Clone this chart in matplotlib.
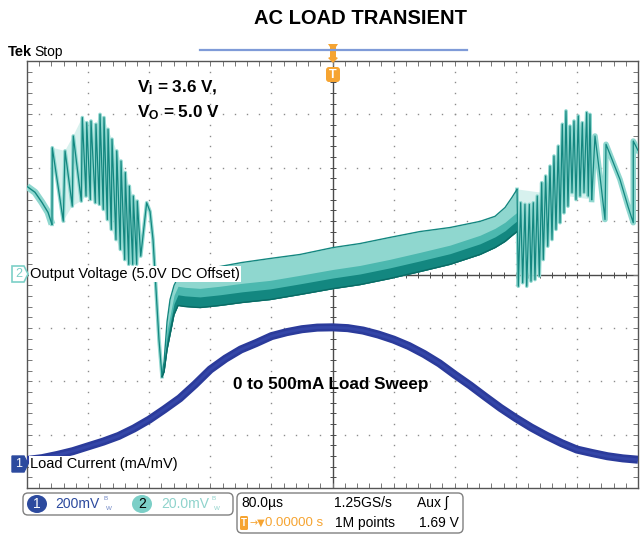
"""
AC load transient: Tek scope screen with output voltage ripple (ch2,
AC-coupled view with 5.0 V DC offset) and a 0-500 mA sinusoidal load
sweep (ch1, 1 mA/mV current probe).
"""
import matplotlib
matplotlib.use("Agg")
import matplotlib.pyplot as plt
import numpy as np
from matplotlib.lines import Line2D
from matplotlib.patches import Ellipse, FancyBboxPatch, Polygon
from matplotlib.ticker import MultipleLocator
from matplotlib.transforms import Affine2D

W, H = 640, 539

# ---------------------------------------------------------------------------
# Scope settings
# ---------------------------------------------------------------------------
US_PER_DIV = 80.0
CH1_MV_PER_DIV = 200.0      # load current, 1 mA/mV
CH1_POS_DIV = -3.5
CH2_MV_PER_DIV = 20.0       # output voltage, 5.0 V offset
CH2_POS_DIV = 0.0

# ---------------------------------------------------------------------------
# Ch1: load current (mA) vs time (us)
# ---------------------------------------------------------------------------
LOAD_T_US = [-400, -380, -360, -340, -320, -300, -280, -260, -240, -220,
             -200, -180, -160, -140, -120, -100, -80, -60, -40, -20, 0,
             20, 40, 60, 80, 100, 120, 140, 160, 180, 200, 220, 240, 260,
             280, 300, 320, 340, 360, 380, 400]
LOAD_MA = [5, 12, 24, 38, 56, 74, 95, 123, 156, 195,
           236, 288, 344, 385, 419, 443, 469, 484, 495, 501, 502,
           499, 490, 475, 456, 432, 402, 367, 325, 285, 242, 200, 162, 127,
           96, 68, 44, 31, 19, 11, 6]

# ---------------------------------------------------------------------------
# Ch2: output voltage deviation (mV) vs time (us)
# ---------------------------------------------------------------------------
# decaying trace at the left edge, before the burst
HEAD_T_US = [-400.0, -389.5, -380.4, -372.5, -367.3]
HEAD_MV = [33.0, 30.8, 27.0, 23.3, 18.8]

# light-load burst ripple, left side
BURST_L_PEAK_T = [-366.9, -350.2, -339.4, -327.6, -321.8, -316.2, -309.7,
                  -304.4, -299.2, -293.9, -288.7, -282.5, -276.9, -271.3,
                  -266.0, -260.8, -255.6]
BURST_L_PEAK_MV = [47.5, 46.3, 51.9, 58.8, 56.9, 57.5, 56.3, 60.0, 58.8,
                   54.4, 50.7, 46.3, 42.5, 38.2, 33.1, 29.4, 27.5]
BURST_L_LOW_T = [-352.5, -340.7, -328.9, -322.7, -317.1, -310.6, -305.3,
                 -300.1, -294.8, -289.6, -283.5, -277.8, -272.1, -266.8,
                 -261.6, -256.4, -251.1]
BURST_L_LOW_MV = [20.0, 25.6, 27.5, 29.4, 28.1, 26.9, 26.3, 24.4, 20.6,
                  16.9, 13.1, 9.4, 5.6, 3.8, 3.8, 3.8, 6.9]

# undershoot when the load ramps up
DIP_T_US = [-243.3, -238.9, -235.0, -231.1, -227.2, -223.2]
DIP_MV = [26.9, 23.6, 13.1, -5.6, -24.4, -38.3]

# continuous-mode band (upper / lower envelope)
BAND_T_US = [-223.2, -220.5, -216.6, -212.7, -207.5, -202.3, -193.1, -173.5,
             -147.3, -118.5, -81.8, -42.6, 0.7, 36.0, 75.3, 114.6, 153.8,
             193.1, 212.8, 225.9, 235.0, 241.6]
BAND_TOP_MV = [-38.3, -32.6, -17.6, -9.4, -4.1, -1.1, 1.1, 1.9, 3.0, 4.5,
               6.0, 7.5, 10.1, 11.6, 13.9, 16.1, 17.6, 19.9, 21.8, 25.1,
               28.9, 31.9]
BAND_LOW_MV = [-38.3, -36.4, -28.1, -22.5, -15.0, -11.6, -12.0, -12.4, -11.6,
               -10.5, -9.4, -7.5, -5.3, -3.8, -1.5, 1.1, 3.8, 7.5, 10.1, 12.4,
               14.6, 16.1]

# burst ripple, right side (trace vertices in order)
BURST_R_T = [241.6, 243.3, 246.4, 249.0, 252.0, 254.3, 257.7, 259.9, 262.9,
             265.1, 268.1, 270.8, 273.9, 276.0, 279.1, 281.8, 284.8, 287.4,
             290.0, 292.6, 295.6, 297.9, 300.9, 303.1, 305.7, 308.3, 311.0,
             313.6, 316.2, 318.8, 321.8, 324.1, 327.1, 329.3, 332.8, 334.9,
             337.1, 339.4]
BURST_R_MV = [31.9, -4.4, 26.9, -3.1, 26.3, -4.4, 26.3, -2.5, 26.9, -1.9,
              29.4, -0.6, 34.4, 5.6, 36.9, 10.6, 40.6, 13.1, 44.4, 16.9,
              48.1, 19.4, 56.3, 23.1, 61.3, 25.6, 55.6, 30.7, 57.5, 28.1,
              59.4, 29.4, 56.9, 30.7, 60.7, 29.4, 60.0, 28.1]

# slow decays at the right edge
TAIL_T_US = [339.4, 343.7, 350.2, 356.8, 358.1, 376.4, 386.9, 393.8, 393.8, 400.0]
TAIL_MV = [28.1, 51.9, 36.9, 20.6, 48.8, 35.6, 25.5, 19.4, 50.0, 46.5]

TEAL_DARK = "#138780"
TEAL_EDGE = "#0b6a64"
TEAL_MID = "#4cb8af"
TEAL_LIGHT = "#8fd7cf"
CH1_BLUE = "#2b3b9b"
CH1_TAG = "#2c4a9e"
CH2_TAG = "#7ccfc7"
ORANGE = "#f6a431"
GRID = "#8c8c8c"
AXIS = "#4a4a4a"

TEK_FONT = ["Liberation Sans", "DejaVu Sans"]
LABEL_FONT = ["Liberation Sans", "DejaVu Sans"]


def ch1(ma):
    return CH1_POS_DIV + np.asarray(ma, dtype=float) / CH1_MV_PER_DIV


def ch2(mv):
    return CH2_POS_DIV + np.asarray(mv, dtype=float) / CH2_MV_PER_DIV


def interleave(a, b):
    out = np.empty(len(a) + len(b))
    out[0::2] = a
    out[1::2] = b
    return out


plt.rcParams["mathtext.fontset"] = "custom"
plt.rcParams["mathtext.bf"] = "Liberation Sans:bold"
plt.rcParams["mathtext.rm"] = "Liberation Sans:bold"

fig = plt.figure(figsize=(W / 100, H / 100), dpi=100)
fig.patch.set_facecolor("white")
PIX = Affine2D().scale(1 / W, -1 / H).translate(0, 1) + fig.transFigure

ax = fig.add_axes([27 / W, 1 - 488 / H, 611 / W, 427 / H])
ax.set_xlim(-5 * US_PER_DIV, 5 * US_PER_DIV)
ax.set_ylim(-4, 4)

# graticule ------------------------------------------------------------------
dots_y = np.arange(-4, 4.001, 0.2)
dots_x = np.arange(-400, 400.1, 16)
for gx in np.arange(-320, 400, 80):
    if gx != 0:
        ax.plot(np.full_like(dots_y, gx), dots_y, ls="none", marker="s",
                ms=1.0, mew=0, color=GRID, zorder=0.5)
for gy in range(-3, 4):
    if gy != 0:
        ax.plot(dots_x, np.full_like(dots_x, gy), ls="none", marker="s",
                ms=1.0, mew=0, color=GRID, zorder=0.5)
ax.axhline(0, color=AXIS, lw=1.0, zorder=1)
ax.axvline(0, color=AXIS, lw=1.0, zorder=1)
ax.plot(dots_x, np.zeros_like(dots_x), ls="none", marker="|", ms=5,
        mew=0.7, color=AXIS, zorder=1)
ax.plot(np.zeros_like(dots_y), dots_y, ls="none", marker="_", ms=5,
        mew=0.7, color=AXIS, zorder=1)

ax.xaxis.set_major_locator(MultipleLocator(US_PER_DIV))
ax.xaxis.set_minor_locator(MultipleLocator(US_PER_DIV / 5))
ax.yaxis.set_major_locator(MultipleLocator(1))
ax.yaxis.set_minor_locator(MultipleLocator(0.2))
ax.tick_params(which="both", direction="in", length=3.5, width=0.7,
               color="#777777", top=True, right=True,
               labelleft=False, labelbottom=False)
for sp in ax.spines.values():
    sp.set_color("#555555")
    sp.set_linewidth(1.0)

# ch1 load current -------------------------------------------------------------
ax.plot(LOAD_T_US, ch1(LOAD_MA), color=CH1_BLUE, lw=5.8,
        solid_capstyle="butt", solid_joinstyle="round", zorder=3)
ax.plot(LOAD_T_US, ch1(LOAD_MA), color="#3446a8", lw=2.0, zorder=3.1)

# ch2 output voltage -----------------------------------------------------------
ax.plot(HEAD_T_US, ch2(HEAD_MV), color=TEAL_LIGHT, lw=5.0,
        solid_capstyle="butt", zorder=3)
ax.plot(HEAD_T_US, ch2(HEAD_MV), color=TEAL_DARK, lw=1.0, zorder=3.2)

# persistence haze between the burst peaks and troughs
haze = np.column_stack([
    np.concatenate([BURST_L_PEAK_T, BURST_L_LOW_T[::-1]]),
    ch2(np.concatenate([BURST_L_PEAK_MV, BURST_L_LOW_MV[::-1]])),
])
ax.add_patch(Polygon(haze, closed=True, fc=TEAL_LIGHT, ec="none", alpha=0.35,
                     zorder=2.8))

burst_t = np.concatenate([[HEAD_T_US[-1]],
                          interleave(BURST_L_PEAK_T, BURST_L_LOW_T),
                          DIP_T_US])
burst_mv = np.concatenate([[HEAD_MV[-1]],
                           interleave(BURST_L_PEAK_MV, BURST_L_LOW_MV),
                           DIP_MV])
ax.plot(burst_t, ch2(burst_mv), color=TEAL_LIGHT, lw=2.6, zorder=3)
ax.plot(burst_t, ch2(burst_mv), color=TEAL_DARK, lw=0.9, zorder=3.2)

band_t = np.asarray(BAND_T_US)
top = ch2(BAND_TOP_MV)
low = ch2(BAND_LOW_MV)
ax.fill_between(band_t, low, top, color=TEAL_LIGHT, lw=0, zorder=3)
ax.fill_between(band_t, low, np.minimum(low + 0.36, top), color=TEAL_MID,
                lw=0, zorder=3.05)
ax.fill_between(band_t, low, np.minimum(low + 0.2, top), color=TEAL_DARK,
                lw=0, zorder=3.1)
ax.plot(band_t, top, color=TEAL_DARK, lw=1.0, zorder=3.2)
ax.plot(band_t, low, color=TEAL_EDGE, lw=1.0, zorder=3.2)

haze_r = np.column_stack([BURST_R_T, ch2(BURST_R_MV)])
ax.add_patch(Polygon(haze_r, closed=True, fc=TEAL_LIGHT, ec="none",
                     alpha=0.35, zorder=2.8))
ax.plot(BURST_R_T, ch2(BURST_R_MV), color=TEAL_LIGHT, lw=2.6, zorder=3)
ax.plot(BURST_R_T, ch2(BURST_R_MV), color=TEAL_DARK, lw=0.9, zorder=3.2)
ax.plot(TAIL_T_US, ch2(TAIL_MV), color=TEAL_LIGHT, lw=4.0, zorder=3)
ax.plot(TAIL_T_US, ch2(TAIL_MV), color=TEAL_DARK, lw=0.9, zorder=3.2)

# ---------------------------------------------------------------------------
# Screen annotations (pixel coordinates)
# ---------------------------------------------------------------------------
fig.text(360, 18, "AC LOAD TRANSIENT", transform=PIX, ha="center",
         va="center", fontsize=14.5, fontweight="bold", family=LABEL_FONT)
fig.text(8, 52, "Tek", transform=PIX, ha="left", va="center", fontsize=10.5,
         fontweight="bold", family=TEK_FONT)
fig.text(34, 52, "Stop", transform=PIX, ha="left", va="center", fontsize=10,
         family=TEK_FONT)

fig.add_artist(Line2D([200, 467], [50, 50], transform=PIX, color="#7f9bd8",
                      lw=1.6))
fig.add_artist(Polygon([(328, 44), (338, 44), (336, 47), (336, 57), (338, 58),
                        (333, 63), (328, 58), (330, 57), (330, 47)],
                       closed=True, transform=PIX, fc=ORANGE, ec="none"))
fig.add_artist(FancyBboxPatch((326, 67), 14, 15, transform=PIX,
                              boxstyle="round,pad=0,rounding_size=3",
                              fc=ORANGE, ec="none"))
fig.text(333, 75, "T", transform=PIX, ha="center", va="center", fontsize=9,
         fontweight="bold", color="white", family=LABEL_FONT)

fig.text(137, 88, r"$\mathbf{V_I}$ = 3.6 V,", transform=PIX, ha="left",
         va="center", fontsize=12.3, fontweight="bold", family=LABEL_FONT)
fig.text(137, 113, r"$\mathbf{V_O}$ = 5.0 V", transform=PIX, ha="left",
         va="center", fontsize=12.3, fontweight="bold", family=LABEL_FONT)
fig.text(233, 384, "0 to 500mA Load Sweep", transform=PIX, ha="left",
         va="center", fontsize=12.3, fontweight="bold", family=LABEL_FONT)

# channel tags and labels
fig.add_artist(Polygon([(12, 266), (24, 266), (28, 274), (24, 282), (12, 282)],
                       closed=True, transform=PIX, fc="white", ec=CH2_TAG,
                       lw=1.2))
fig.text(18.5, 274, "2", transform=PIX, ha="center", va="center", fontsize=9,
         color=CH2_TAG, family=TEK_FONT)
fig.text(30, 274, "Output Voltage (5.0V DC Offset)", transform=PIX,
         ha="left", va="center", fontsize=10.5, family=TEK_FONT,
         bbox=dict(fc="white", ec="none", pad=1.0))
fig.add_artist(Polygon([(12, 456), (24, 456), (28, 464), (24, 472), (12, 472)],
                       closed=True, transform=PIX, fc=CH1_TAG, ec=CH1_TAG,
                       lw=1.0))
fig.text(18.5, 464, "1", transform=PIX, ha="center", va="center", fontsize=9,
         color="white", family=TEK_FONT)
fig.text(30, 464, "Load Current (mA/mV)", transform=PIX, ha="left",
         va="center", fontsize=10.5, family=TEK_FONT,
         bbox=dict(fc="white", ec="none", pad=0.5))

# status bar
fig.add_artist(FancyBboxPatch((23, 493), 210, 22, transform=PIX,
                              boxstyle="round,pad=0,rounding_size=5",
                              fc="white", ec="#808080", lw=1.0))
fig.add_artist(FancyBboxPatch((237, 493), 226, 40, transform=PIX,
                              boxstyle="round,pad=0,rounding_size=5",
                              fc="white", ec="#808080", lw=1.0))
fig.add_artist(Ellipse((37, 504), 20, 18, transform=PIX, fc=CH1_TAG, ec="none"))
fig.text(37, 504, "1", transform=PIX, ha="center", va="center", fontsize=10,
         color="white", family=TEK_FONT)
fig.text(55, 504, "200mV", transform=PIX, ha="left", va="center",
         fontsize=10, color=CH1_TAG, family=TEK_FONT)
fig.text(103, 499, "B", transform=PIX, ha="left", va="center", fontsize=4.5,
         color="#6f86c4", family=TEK_FONT)
fig.text(106, 508, "W", transform=PIX, ha="left", va="center", fontsize=4.5,
         color="#6f86c4", family=TEK_FONT)
fig.add_artist(Ellipse((142, 504), 20, 18, transform=PIX, fc=CH2_TAG,
                       ec="none"))
fig.text(142, 504, "2", transform=PIX, ha="center", va="center", fontsize=10,
         color="black", family=TEK_FONT)
fig.text(161, 504, "20.0mV", transform=PIX, ha="left", va="center",
         fontsize=10, color="#8fd3cc", family=TEK_FONT)
fig.text(211, 499, "B", transform=PIX, ha="left", va="center", fontsize=4.5,
         color="#8fd3cc", family=TEK_FONT)
fig.text(214, 508, "W", transform=PIX, ha="left", va="center", fontsize=4.5,
         color="#8fd3cc", family=TEK_FONT)

fig.text(241, 503, "80.0µs", transform=PIX, ha="left", va="center",
         fontsize=10, family=TEK_FONT)
fig.text(334, 503, "1.25GS/s", transform=PIX, ha="left", va="center",
         fontsize=10, family=TEK_FONT)
fig.text(417, 503, "Aux ʃ", transform=PIX, ha="left", va="center",
         fontsize=10, family=TEK_FONT)
fig.add_artist(FancyBboxPatch((240, 516), 8, 14, transform=PIX,
                              boxstyle="round,pad=0,rounding_size=1.5",
                              fc=ORANGE, ec="none"))
fig.text(244, 523, "T", transform=PIX, ha="center", va="center", fontsize=7,
         fontweight="bold", color="white", family=LABEL_FONT)
fig.text(249, 523, "→▼", transform=PIX, ha="left", va="center",
         fontsize=7, color=ORANGE, family=["DejaVu Sans"])
fig.text(265, 523, "0.00000 s", transform=PIX, ha="left", va="center",
         fontsize=9.5, color=ORANGE, family=TEK_FONT)
fig.text(335, 523, "1M points", transform=PIX, ha="left", va="center",
         fontsize=10, family=TEK_FONT)
fig.text(459, 523, "1.69 V", transform=PIX, ha="right", va="center",
         fontsize=10, family=TEK_FONT)

fig.savefig("out.png", dpi=100)
